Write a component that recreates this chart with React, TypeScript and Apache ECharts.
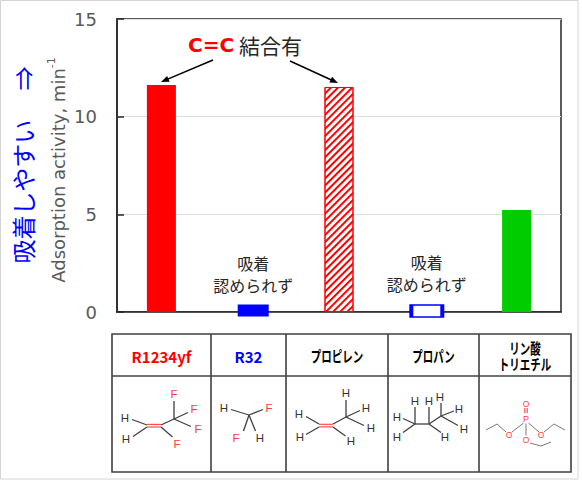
import React, { useEffect, useRef } from 'react';
import * as echarts from 'echarts';

// ---- data ----
const categories = ['R1234yf', 'R32', 'プロピレン', 'プロパン', 'リン酸トリエチル'];
const activity = [11.62, 0, 11.52, 0, 5.22];
const noAdsorption = [false, true, false, true, false];
const yMin = 0;
const yMax = 15;
const yInterval = 5;
const tableHeaders = ['R1234yf', 'R32', 'プロピレン', 'プロパン', 'リン酸\nトリエチル'];
const annotationText = ['C=C', ' 結合有'];
const noAdsLabel = '吸着\n認められず';

const RED = '#ff0000';
const BLUE = '#0000ff';
const GREEN = '#00cc00';
const DARK = '#262626';
const JP = '"Noto Sans CJK JP", sans-serif';
const LAT = '"DejaVu Sans", "Noto Sans CJK JP", sans-serif';
const ATOM = '"Liberation Sans", Arial, sans-serif';

const barStyles: any[] = [
  { color: RED },
  null,
  {
    color: '#ffffff',
    borderColor: RED,
    borderWidth: 1,
    decal: {
      symbol: 'rect',
      symbolSize: 1,
      color: RED,
      backgroundColor: '#ffffff',
      dashArrayX: [1, 0],
      dashArrayY: [1.6, 2.4],
      rotation: -Math.PI / 4,
    },
  },
  null,
  { color: GREEN },
];
const markerStyles: any[] = [
  null,
  { color: BLUE, borderWidth: 0, offset: [3, -1.5] },
  null,
  { color: '#ffffff', borderColor: BLUE, borderWidth: 2.5, offset: [-1, -1] },
  null,
];

function line(x1: number, y1: number, x2: number, y2: number, stroke = '#404040', lw = 1.3) {
  return { type: 'line', silent: true, shape: { x1, y1, x2, y2 }, style: { stroke, lineWidth: lw } };
}
function txt(x: number, y: number, text: string, fill: string, fontSize: number, extra: any = {}) {
  return {
    type: 'text',
    silent: true,
    x,
    y,
    ...extra.el,
    style: {
      text,
      fill,
      fontSize,
      fontFamily: extra.fontFamily || ATOM,
      fontWeight: extra.fontWeight || 'normal',
      align: 'center',
      verticalAlign: 'middle',
      lineHeight: extra.lineHeight,
      rich: extra.rich,
    },
  };
}
function arrow(x1: number, y1: number, x2: number, y2: number) {
  const dx = x2 - x1;
  const dy = y2 - y1;
  const len = Math.sqrt(dx * dx + dy * dy);
  const ux = dx / len;
  const uy = dy / len;
  const hl = 8;
  const hw = 3.2;
  const bx = x2 - ux * hl;
  const by = y2 - uy * hl;
  return [
    line(x1, y1, bx + ux * 2, by + uy * 2, '#000000', 1.5),
    {
      type: 'polygon',
      silent: true,
      shape: { points: [[x2, y2], [bx - uy * hw, by + ux * hw], [bx + uy * hw, by - ux * hw]] },
      style: { fill: '#000000' },
    },
  ];
}

function molecules(): any[] {
  const g: any[] = [];
  const H = (x: number, y: number) => g.push(txt(x, y, 'H', '#333333', 11.5));
  const F = (x: number, y: number) => g.push(txt(x, y, 'F', '#ff3b3b', 11.5));
  const O = (x: number, y: number) => g.push(txt(x, y, 'O', '#ff3b3b', 8.5));
  const B = (x1: number, y1: number, x2: number, y2: number) => g.push(line(x1, y1, x2, y2));
  const R = (x1: number, y1: number, x2: number, y2: number) => g.push(line(x1, y1, x2, y2, '#ff5050', 1.2));
  const Lg = (x1: number, y1: number, x2: number, y2: number) => g.push(line(x1, y1, x2, y2, '#7a7a7a', 1));

  // R1234yf
  H(125, 418); H(126, 439);
  F(174, 394); F(194, 409); F(198, 429); F(177, 444);
  B(132, 419.5, 147, 425); B(133, 436.5, 147, 427);
  B(161, 425, 174, 419); B(174, 419, 174, 401); B(174, 419, 188, 412.5); B(174, 419, 191, 426.5);
  B(161, 427, 172.5, 437);
  R(147, 424.4, 161, 424.4); R(147, 427, 161, 427);

  // R32
  H(224, 408); F(269, 408); F(236, 438); H(260, 438);
  B(231, 409.5, 249, 415); B(249, 415, 263, 409.5); B(249, 415, 243.5, 431); B(249, 415, 255.5, 431);

  // Propylene
  H(299, 414); H(300, 437); H(346, 393); H(366, 408); H(371, 428); H(351, 441);
  B(306, 416.5, 319, 424); B(306, 434.5, 319, 427);
  B(333, 424, 346, 417); B(346, 417, 346, 400); B(346, 417, 360, 410.5); B(346, 417, 364, 425.5);
  B(333, 427, 345.5, 436);
  R(319, 424.3, 333, 424.3); R(319, 426.9, 333, 426.9);

  // Propane
  H(415, 401); H(397, 417); H(397, 437); H(429, 401); H(445, 437); H(440, 397); H(459, 409); H(464, 429);
  B(415, 424, 429, 424); B(429, 424, 441, 416);
  B(415, 424, 415, 407); B(403, 418.5, 415, 424); B(403, 432.5, 415, 424);
  B(429, 424, 429, 407); B(429, 424, 441, 432.5);
  B(441, 416, 441, 403); B(441, 416, 454, 411); B(441, 416, 458, 425.5);

  // Triethyl phosphate
  g.push(txt(526, 419, 'P', '#ff3b3b', 9));
  O(526, 404); O(509, 435); O(541, 435); O(526, 440);
  R(524.8, 408, 524.8, 413); R(527.2, 408, 527.2, 413);
  Lg(523.5, 423, 512, 432); Lg(506, 432, 497, 424); Lg(497, 424, 486, 430);
  Lg(528.5, 423, 539, 432); Lg(544, 432, 554, 424); Lg(554, 424, 565, 430);
  Lg(526, 423.5, 526, 435.5);
  Lg(530, 443, 541, 446); Lg(541, 446, 551, 442);
  return g;
}

function table(): any[] {
  const g: any[] = [];
  const xs = [112, 211, 286, 388, 479, 571];
  const top = 334;
  const mid = 376;
  const bot = 472;
  const st = '#404040';
  g.push({ type: 'rect', silent: true, shape: { x: xs[0], y: top, width: xs[5] - xs[0], height: bot - top }, style: { fill: 'none', stroke: st, lineWidth: 1.6 } });
  g.push(line(xs[0], mid, xs[5], mid, st, 1.6));
  for (let i = 1; i < 5; i++) g.push(line(xs[i], top, xs[i], bot, st, 1.6));
  const colors = [RED, BLUE, '#000000', '#000000', '#000000'];
  tableHeaders.forEach((h, i) => {
    const cx = (xs[i] + xs[i + 1]) / 2;
    const isKana = i >= 2;
    g.push(
      txt(cx, 356, h, colors[i], 15, {
        fontFamily: JP,
        fontWeight: 'bold',
        lineHeight: 16,
        el: isKana ? { scaleX: 0.7 } : {},
      })
    );
  });
  return g;
}

export default function App() {
  const ref = useRef<HTMLDivElement>(null);
  useEffect(() => {
    const chart = echarts.init(ref.current!, null, { renderer: 'svg' });
    const barData = activity.map((v, i) =>
      noAdsorption[i] ? '-' : { value: v, itemStyle: barStyles[i] }
    );
    const markerData = activity.map((v, i) => {
      if (!noAdsorption[i]) return '-';
      const m = markerStyles[i];
      return {
        value: v,
        symbolOffset: m.offset,
        itemStyle: { color: m.color, borderColor: m.borderColor, borderWidth: m.borderWidth, opacity: 1 },
      };
    });

    const option: any = {
      animation: false,
      backgroundColor: '#ffffff',
      grid: {
        left: 117,
        right: 21,
        top: 19,
        bottom: 168,
        show: true,
        borderColor: DARK,
        borderWidth: 1.5,
        backgroundColor: 'transparent',
      },
      xAxis: {
        type: 'category',
        data: categories,
        axisLine: { show: true, lineStyle: { color: DARK, width: 1.5 } },
        axisTick: { show: false },
        axisLabel: { show: false },
        splitLine: { show: false },
      },
      yAxis: {
        type: 'value',
        min: yMin,
        max: yMax,
        interval: yInterval,
        axisLine: { show: true, lineStyle: { color: DARK, width: 1.5 } },
        axisTick: { show: true, inside: true, length: 7, lineStyle: { color: DARK, width: 1.5 } },
        axisLabel: { color: '#595959', fontSize: 18, fontFamily: LAT, margin: 20 },
        splitLine: { show: true, lineStyle: { color: '#dedede', width: 1 } },
      },
      series: [
        {
          type: 'bar',
          data: barData,
          barWidth: 29,
          z: 3,
        },
        {
          type: 'scatter',
          data: markerData,
          symbol: 'rect',
          symbolSize: [31, 12],
          clip: false,
          z: 4,
          itemStyle: { opacity: 1 },
          label: {
            show: true,
            position: 'top',
            distance: 9,
            formatter: () => noAdsLabel,
            color: DARK,
            opacity: 1,
            fontSize: 16,
            lineHeight: 22,
            fontFamily: JP,
          },
        },
      ],
      graphic: {
        elements: [
          {
            type: 'rect',
            silent: true,
            shape: { x: 0.5, y: 0.5, width: 577.5, height: 478.5 },
            style: { fill: 'none', stroke: '#d4d4d4', lineWidth: 1 },
            z: -10,
          },
          // y-axis name
          {
            type: 'text',
            silent: true,
            x: 58,
            y: 170,
            rotation: Math.PI / 2,
            style: {
              text: '{a|Adsorption activity, min}{s|-1}',
              align: 'center',
              verticalAlign: 'middle',
              rich: {
                a: { fontSize: 18, fill: '#595959', fontFamily: LAT, lineHeight: 24 },
                s: { fontSize: 11, fill: '#595959', fontFamily: LAT, verticalAlign: 'top', lineHeight: 24 },
              },
            },
          },
          // blue note
          {
            type: 'text',
            silent: true,
            x: 22,
            y: 165,
            rotation: Math.PI / 2,
            style: {
              text: '吸着しやすい\u3000 ⇒',
              fill: BLUE,
              fontSize: 24,
              fontFamily: JP,
              align: 'center',
              verticalAlign: 'middle',
            },
          },
          // annotation
          {
            type: 'text',
            silent: true,
            x: 245,
            y: 45,
            style: {
              text: '{r|' + annotationText[0] + '}{k|' + annotationText[1] + '}',
              align: 'center',
              verticalAlign: 'middle',
              rich: {
                r: { fontSize: 20, fontWeight: 'bold', fill: RED, fontFamily: LAT },
                k: { fontSize: 21, fill: DARK, fontFamily: JP },
              },
            },
          },
          ...arrow(213, 60, 161, 82),
          ...arrow(290, 61, 338, 83),
          ...table(),
          ...molecules(),
        ],
      },
    };
    chart.setOption(option);
    return () => chart.dispose();
  }, []);
  return (
    <div
      ref={ref}
      style={{ position: 'fixed', left: 0, top: 0, width: 582, height: 480, background: '#ffffff' }}
    />
  );
}
